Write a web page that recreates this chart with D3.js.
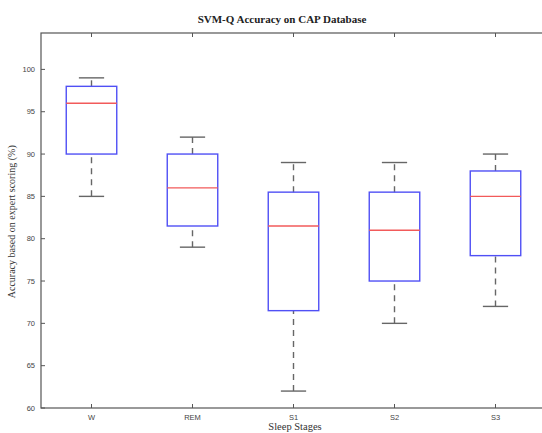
<!DOCTYPE html>
<html lang="en">
<head>
<meta charset="UTF-8">
<title>SVM-Q Accuracy on CAP Database</title>
<script src="https://cdn.jsdelivr.net/npm/d3@7"></script>
<style>
    body { margin: 0; background: #fff; }
    svg { display: block; }
</style>
</head>
<body>
<svg id="chart" width="542" height="433"></svg>
<script>
    // values
    const stages = ["W", "REM", "S1", "S2", "S3"];
    const lowWhisker = [85, 79, 62, 70, 72];
    const q1 = [90, 81.5, 71.5, 75, 78];
    const medians = [96, 86, 81.5, 81, 85];
    const q3 = [98, 90, 85.5, 85.5, 88];
    const highWhisker = [99, 92, 89, 89, 90];
    const yTicks = [60, 65, 70, 75, 80, 85, 90, 95, 100];

    const plotLeft = 41, plotRight = 546, plotTop = 33, plotBottom = 408;

    const svg = d3.select("#chart");

    // xlim is [0.5, 5.5] like matlab boxplot
    const x = d3.scaleLinear().domain([0.5, 5.5]).range([plotLeft, plotRight]);
    const y = d3.scaleLinear().domain([60, 104.3]).range([plotBottom, plotTop]);

    const axisColor = "#555";
    const tickLen = 4;

    // frame
    svg.append("rect")
        .attr("x", plotLeft).attr("y", plotTop)
        .attr("width", plotRight - plotLeft).attr("height", plotBottom - plotTop)
        .attr("fill", "none").attr("stroke", axisColor).attr("stroke-width", 1.2);

    // y ticks (inward, both sides)
    const yAxis = svg.append("g").attr("font-family", "Liberation Sans, Arial, sans-serif")
        .attr("font-size", 7.5).attr("fill", "#444");
    yTicks.forEach(t => {
        yAxis.append("line").attr("x1", plotLeft).attr("x2", plotLeft + tickLen)
            .attr("y1", y(t)).attr("y2", y(t)).attr("stroke", axisColor);
        yAxis.append("line").attr("x1", plotRight).attr("x2", plotRight - tickLen)
            .attr("y1", y(t)).attr("y2", y(t)).attr("stroke", axisColor);
        yAxis.append("text").attr("x", plotLeft - 6).attr("y", y(t) + 2.5)
            .attr("text-anchor", "end").text(t);
    });

    // x ticks (inward, top and bottom)
    const xAxis = svg.append("g").attr("font-family", "Liberation Sans, Arial, sans-serif")
        .attr("font-size", 7.5).attr("fill", "#444");
    stages.forEach((s, i) => {
        const cx = x(i + 1);
        xAxis.append("line").attr("x1", cx).attr("x2", cx)
            .attr("y1", plotBottom).attr("y2", plotBottom - tickLen).attr("stroke", axisColor);
        xAxis.append("line").attr("x1", cx).attr("x2", cx)
            .attr("y1", plotTop).attr("y2", plotTop + tickLen).attr("stroke", axisColor);
        xAxis.append("text").attr("x", cx).attr("y", plotBottom + 12)
            .attr("text-anchor", "middle").text(s);
    });

    // boxes
    const boxW = x(1.25) - x(1);
    const capW = x(1.125) - x(1);
    const g = svg.append("g");
    stages.forEach((s, i) => {
        const cx = x(i + 1);
        // whiskers
        [[lowWhisker[i], q1[i]], [q3[i], highWhisker[i]]].forEach(([a, b]) => {
            g.append("line").attr("x1", cx).attr("x2", cx)
                .attr("y1", y(a)).attr("y2", y(b))
                .attr("stroke", "#666").attr("stroke-width", 1.4)
                .attr("stroke-dasharray", "6,5");
        });
        [lowWhisker[i], highWhisker[i]].forEach(v => {
            g.append("line").attr("x1", cx - capW).attr("x2", cx + capW)
                .attr("y1", y(v)).attr("y2", y(v))
                .attr("stroke", "#666").attr("stroke-width", 1.4);
        });
        g.append("rect")
            .attr("x", cx - boxW).attr("y", y(q3[i]))
            .attr("width", boxW * 2).attr("height", y(q1[i]) - y(q3[i]))
            .attr("fill", "none").attr("stroke", "#5050f5").attr("stroke-width", 1.4);
        g.append("line").attr("x1", cx - boxW).attr("x2", cx + boxW)
            .attr("y1", y(medians[i])).attr("y2", y(medians[i]))
            .attr("stroke", "#f25a5a").attr("stroke-width", 1.4);
    });

    // titles
    svg.append("text").attr("x", 282).attr("y", 23)
        .attr("text-anchor", "middle")
        .attr("font-family", "Liberation Serif, Times New Roman, serif")
        .attr("font-weight", "bold").attr("font-size", 11)
        .attr("fill", "#222").text("SVM-Q Accuracy on CAP Database");

    svg.append("text").attr("x", 295).attr("y", 430)
        .attr("text-anchor", "middle")
        .attr("font-family", "Liberation Serif, Times New Roman, serif")
        .attr("font-size", 10.5).attr("fill", "#333").text("Sleep Stages");

    svg.append("text")
        .attr("transform", "translate(15," + (y(82)) + ") rotate(-90)")
        .attr("text-anchor", "middle")
        .attr("font-family", "Liberation Serif, Times New Roman, serif")
        .attr("font-size", 10).attr("fill", "#333")
        .text("Accuracy based on expert scoring (%)");
</script>
</body>
</html>
